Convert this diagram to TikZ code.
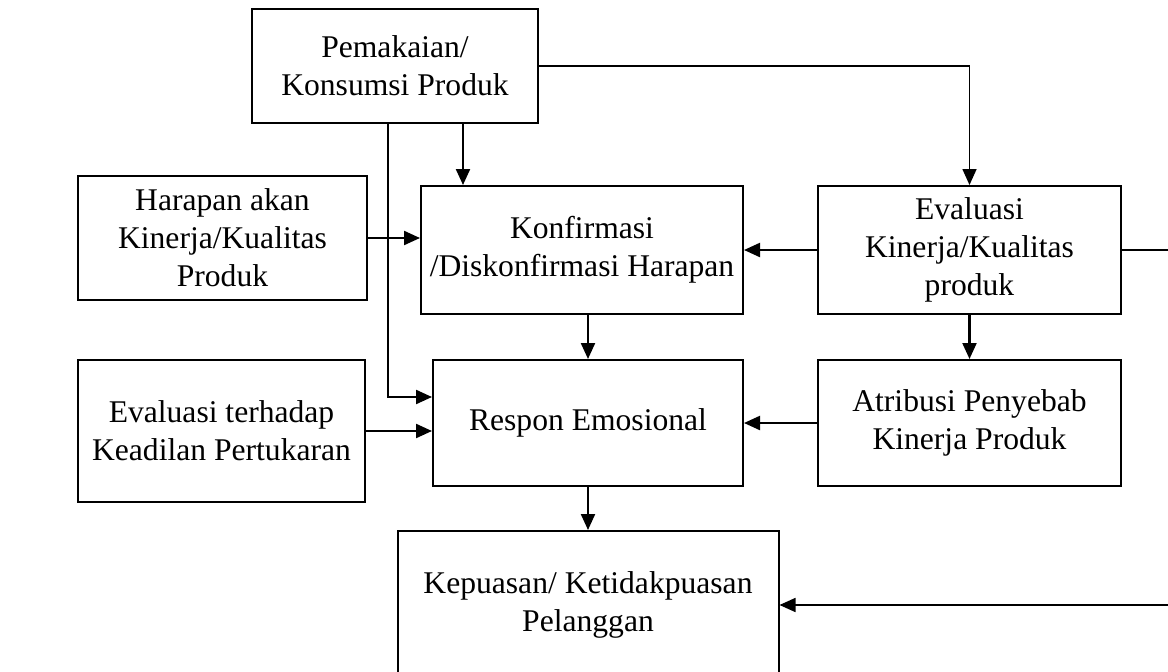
\documentclass[tikz,border=0pt]{standalone}
\usepackage{fontspec}
\setmainfont{Liberation Serif}
\usepackage{tikz}
\usetikzlibrary{arrows.meta,positioning}

\begin{document}
\begin{tikzpicture}[
    x=1pt, y=-1pt,
    box/.style={draw, line width=2pt, inner sep=0pt, align=center,
        font=\fontsize{31.6}{38}\selectfont},
    arr/.style={-{Triangle[length=16pt,width=14pt]}, line width=2.2pt}
]
\clip (0,0) rectangle (1168,672);
\fill[white] (0,0) rectangle (1168,672);

% Boxes.
\node[box, minimum width=286pt, minimum height=114pt] (pem) at (395,66) {Pemakaian/\\Konsumsi Produk};
\node[box, minimum width=289pt, minimum height=124pt] (har) at (222.5,238) {Harapan akan\\Kinerja/Kualitas\\Produk};
\node[box, minimum width=322pt, minimum height=128pt] (konf) at (582,250) {Konfirmasi\\/Diskonfirmasi Harapan};
\node[box, minimum width=303pt, minimum height=128pt] (evk) at (969.5,250) {Evaluasi\\Kinerja/Kualitas\\produk};
\node[box, minimum width=287pt, minimum height=142pt] (evt) at (221.5,431) {Evaluasi terhadap\\Keadilan Pertukaran};
\node[box, minimum width=310pt, minimum height=126pt] (resp) at (588,423) {Respon Emosional};
\node[box, minimum width=303pt, minimum height=126pt] (atr) at (969.5,423) {Atribusi Penyebab\\Kinerja Produk};
\node[box, minimum width=381pt, minimum height=148pt] (kep) at (588,605) {Kepuasan/ Ketidakpuasan\\Pelanggan};
\coordinate (rt) at (1174,0);

% Connectors.
\draw[arr, line width=1.6pt] (pem.east) -| (evk.north);
\draw[arr] ([xshift=68pt]pem.south) -- ([xshift=68pt]pem.south |- konf.north);
\draw[arr] ([xshift=-7pt]pem.south) |- ([yshift=26pt]resp.west);
\draw[arr] (har.east) -- (har.east -| konf.west);
\draw[arr] (evk.west) -- (konf.east);
\draw[arr] (resp.north |- konf.south) -- (resp.north);
\draw[arr] (evk.south) -- (atr.north);
\draw[arr] (atr.west) -- (resp.east);
\draw[arr] (evt.east) -- (evt.east -| resp.west);
\draw[arr] (resp.south) -- (kep.north);
\draw[arr, line width=1.6pt] (evk.east) -- (evk.east -| rt) |- (kep.east);
\end{tikzpicture}
\end{document}
